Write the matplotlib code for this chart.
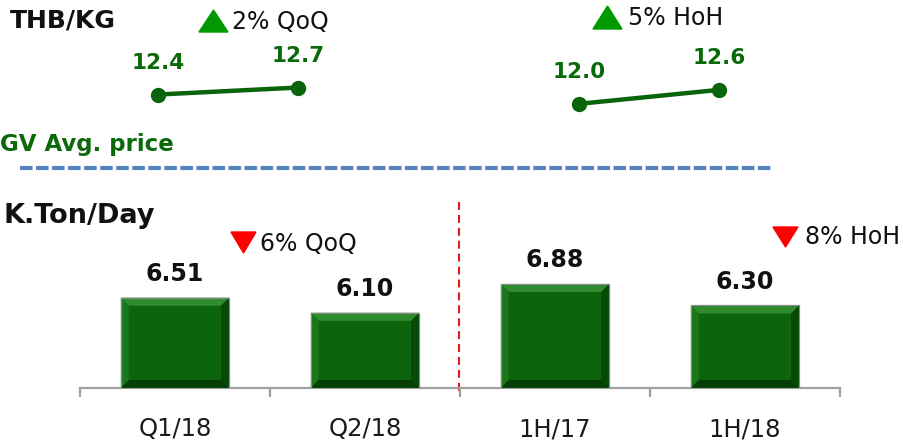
import numpy as np
import matplotlib.pyplot as plt
from matplotlib.patches import Polygon

# data
price_pairs = [[12.4, 12.7], [12.0, 12.6]]
price_pos = [[0, 1], [3, 4]]
categories = ['Q1/18', 'Q2/18', '1H/17', '1H/18']
volume = [6.51, 6.10, 6.88, 6.30]

W, H = 904, 440
fig = plt.figure(figsize=(W / 100, H / 100), dpi=100)

def px(l, t, r, b):
    # pixel box -> figure fraction rect
    return [l / W, 1 - b / H, (r - l) / W, (b - t) / H]

green_txt = '#0A6A0A'

# ---- overlay for headings, arrows and separators (pixel coords) ----
ov = fig.add_axes([0, 0, 1, 1])
ov.set_xlim(0, W)
ov.set_ylim(H, 0)
ov.axis('off')

ov.text(10, 21, 'THB/KG', fontsize=18, fontweight='bold', va='center', color='#111111')
ov.text(0, 145, 'GV Avg. price', fontsize=16.5, fontweight='bold', va='center', color=green_txt)
ov.text(3, 216, 'K.Ton/Day', fontsize=19.5, fontweight='bold', va='center', color='#111111')

ov.add_patch(Polygon([(199, 32), (228, 32), (213.5, 10)], color='#009a00'))
ov.text(232, 22, '2% QoQ', fontsize=17, va='center', color='#111111')
ov.add_patch(Polygon([(593, 29), (622, 29), (607.5, 6)], color='#009a00'))
ov.text(628, 18, '5% HoH', fontsize=17, va='center', color='#111111')

ov.add_patch(Polygon([(231, 232), (256, 232), (243.5, 253)], color='#ff0000'))
ov.text(260, 244, '6% QoQ', fontsize=17, va='center', color='#111111')
ov.add_patch(Polygon([(773, 227), (798, 227), (785.5, 247)], color='#ff0000'))
ov.text(805, 237, '8% HoH', fontsize=17, va='center', color='#111111')

ov.plot([20, 773], [168, 168], color='#5583bf', lw=3, dashes=(3, 0.85),
        solid_capstyle='butt', dash_capstyle='butt')
ov.plot([459, 459], [202, 392], color='#e01b1b', lw=1.5, dashes=(3.8, 2.4),
        dash_capstyle='butt')

# ---- top: avg price line ----
ax1 = fig.add_axes(px(88, 60, 789, 130))
ax1.patch.set_alpha(0)
for pos, vals in zip(price_pos, price_pairs):
    ax1.plot(pos, vals, '-o', color='#0A640A', lw=3.2, ms=10, clip_on=False)
    for xp, v in zip(pos, vals):
        ax1.annotate(f'{v:.1f}', (xp, v), xytext=(0, 23), textcoords='offset points',
                     ha='center', va='center', fontsize=15.5, fontweight='bold',
                     color=green_txt)
ax1.set_xlim(-0.5, 4.5)
ax1.set_ylim(10.88, 13.88)
ax1.axis('off')

# ---- bottom: volume bars ----
ax2 = fig.add_axes(px(80, 200, 840, 388))
ax2.patch.set_alpha(0)
x = np.arange(len(categories))
ybase = 4.06
bars = ax2.bar(x, volume, width=0.57, color='#0C650C', edgecolor='#8a8a8a',
               linewidth=0.8, zorder=2)
ax2.set_xlim(-0.5, 3.5)
ax2.set_ylim(ybase, 9.155)

# bevel effect on each bar
dx, dy = 0.042, 0.22
for b in bars:
    x0, x1 = b.get_x(), b.get_x() + b.get_width()
    y0, y1 = ybase, b.get_height()
    faces = [
        ([(x0, y1), (x1, y1), (x1 - dx, y1 - dy), (x0 + dx, y1 - dy)], '#2f8c2f'),
        ([(x0, y0), (x0, y1), (x0 + dx, y1 - dy), (x0 + dx, y0 + dy)], '#1b771b'),
        ([(x1, y0), (x1, y1), (x1 - dx, y1 - dy), (x1 - dx, y0 + dy)], '#064a06'),
        ([(x0, y0), (x1, y0), (x1 - dx, y0 + dy), (x0 + dx, y0 + dy)], '#053f05'),
    ]
    for verts, c in faces:
        ax2.add_patch(Polygon(verts, closed=True, facecolor=c, edgecolor='none', zorder=3))
    ax2.add_patch(plt.Rectangle((x0, y0), x1 - x0, y1 - y0, fill=False,
                                edgecolor='#8a8a8a', lw=0.8, zorder=4))
    ax2.annotate(f'{b.get_height():.2f}', (b.get_x() + b.get_width() / 2, y1),
                 xytext=(0, 17), textcoords='offset points', ha='center', va='center',
                 fontsize=17, fontweight='bold', color='#111111')

for s in ['top', 'right', 'left']:
    ax2.spines[s].set_visible(False)
ax2.spines['bottom'].set_color('#a0a0a0')
ax2.spines['bottom'].set_linewidth(1.6)
ax2.set_yticks([])
ax2.set_xticks(np.arange(-0.5, 4, 1))
ax2.set_xticklabels([])
ax2.tick_params(axis='x', which='major', length=6.5, width=1.6, color='#a0a0a0')
ax2.set_xticks(x, minor=True)
ax2.set_xticklabels(categories, minor=True, fontsize=17.5, color='#1a1a1a')
ax2.tick_params(axis='x', which='minor', length=0, pad=21)

fig.savefig('out.png', dpi=100)
